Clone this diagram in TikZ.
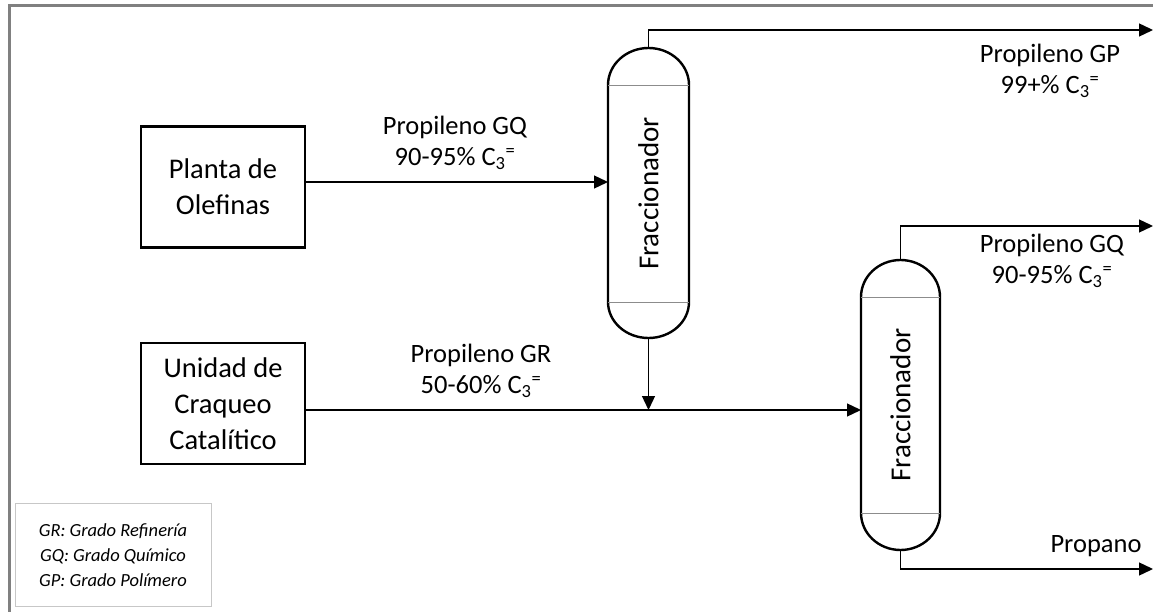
\documentclass[tikz,border=0pt]{standalone}
\usepackage{fontspec}
\setmainfont{Carlito}
\usetikzlibrary{arrows.meta}
\newcommand{\cthree}{C\textsubscript{3}\textsuperscript{=}}
\begin{document}
\begin{tikzpicture}[x=1pt,y=-1pt,
  unitbox/.style={draw,line width=2.6pt,minimum width=164pt,minimum height=121pt,
    align=center,font=\fontsize{28.5}{36}\selectfont,inner sep=0pt},
  vessel/.style={line width=2.4pt},
  joint/.style={line width=0.8pt,draw=black!45},
  flow/.style={line width=1.3pt,-{Triangle[length=14pt,width=13pt]}},
  lbl/.style={align=center,font=\fontsize{26.5}{31}\selectfont,inner sep=0pt},
  coltext/.style={rotate=90,font=\fontsize{29}{30}\selectfont,inner sep=0pt},
  legend/.style={draw=black!22,line width=1pt,minimum width=196pt,minimum height=103pt,
    align=center,font=\fontsize{18.5}{25}\itshape\selectfont}]
\useasboundingbox (0,0) rectangle (1153,612);
\fill[white] (0,0) rectangle (1153,612);
% outer frame
\draw[line width=3pt,draw=black!50] (9,613) -- (9,6) -- (1154,6);

% feed units
\node[unitbox] (plant) at (223,187) {Planta de\\Olefinas};
\node[unitbox] (fcc) at (223,403.5) {Unidad de\\Craqueo\\Catalítico};

% first fractionator
\draw[vessel] (608,85) -- (608,302) arc[start angle=180,end angle=360,x radius=40.5pt,y radius=36pt]
  -- (689,85) arc[start angle=0,end angle=180,x radius=40.5pt,y radius=37pt] -- cycle;
\draw[joint] (608,85) -- (689,85) (608,302) -- (689,302);
\node[coltext] (frac1) at (648.5,193.5) {Fraccionador};
\coordinate (c1top) at (648.5,48);
\coordinate (c1bot) at (648.5,338);
\coordinate (c1in) at (608,182);

% second fractionator
\draw[vessel] (861,297) -- (861,513) arc[start angle=180,end angle=360,x radius=39.5pt,y radius=37pt]
  -- (940,297) arc[start angle=0,end angle=180,x radius=39.5pt,y radius=37pt] -- cycle;
\draw[joint] (861,297) -- (940,297) (861,513) -- (940,513);
\node[coltext] (frac2) at (900.5,405) {Fraccionador};
\coordinate (c2top) at (900.5,260);
\coordinate (c2bot) at (900.5,550);
\coordinate (c2in) at (861,410);

% stream ends and junction
\coordinate (mix) at (648.5,410);
\coordinate (gpout) at (1153,30);
\coordinate (gqout) at (1153,226);
\coordinate (c3out) at (1153,569);

% streams
\draw[flow] (plant.east |- c1in) -- (c1in);
\draw[flow] (fcc.east |- c2in) -- (c2in);
\draw[flow] (c1bot) -- (mix);
\draw[flow] (c1top) |- (gpout);
\draw[flow] (c2top) |- (gqout);
\draw[flow] (c2bot) |- (c3out);

% stream labels
\node[lbl] (lgq1) at (455,143) {Propileno GQ\\90-95\% \cthree};
\node[lbl] (lgr) at (481,371) {Propileno GR\\50-60\% \cthree};
\node[lbl] (lgp) at (1050,71) {Propileno GP\\99+\% \cthree};
\node[lbl] (lgq2) at (1052,261) {Propileno GQ\\90-95\% \cthree};
\node[lbl] (lc3) at (1096,546) {Propano};

% legend
\node[legend] (key) at (113,555) {GR: Grado Refinería\\GQ: Grado Químico\\GP: Grado Polímero};
\end{tikzpicture}
\end{document}
